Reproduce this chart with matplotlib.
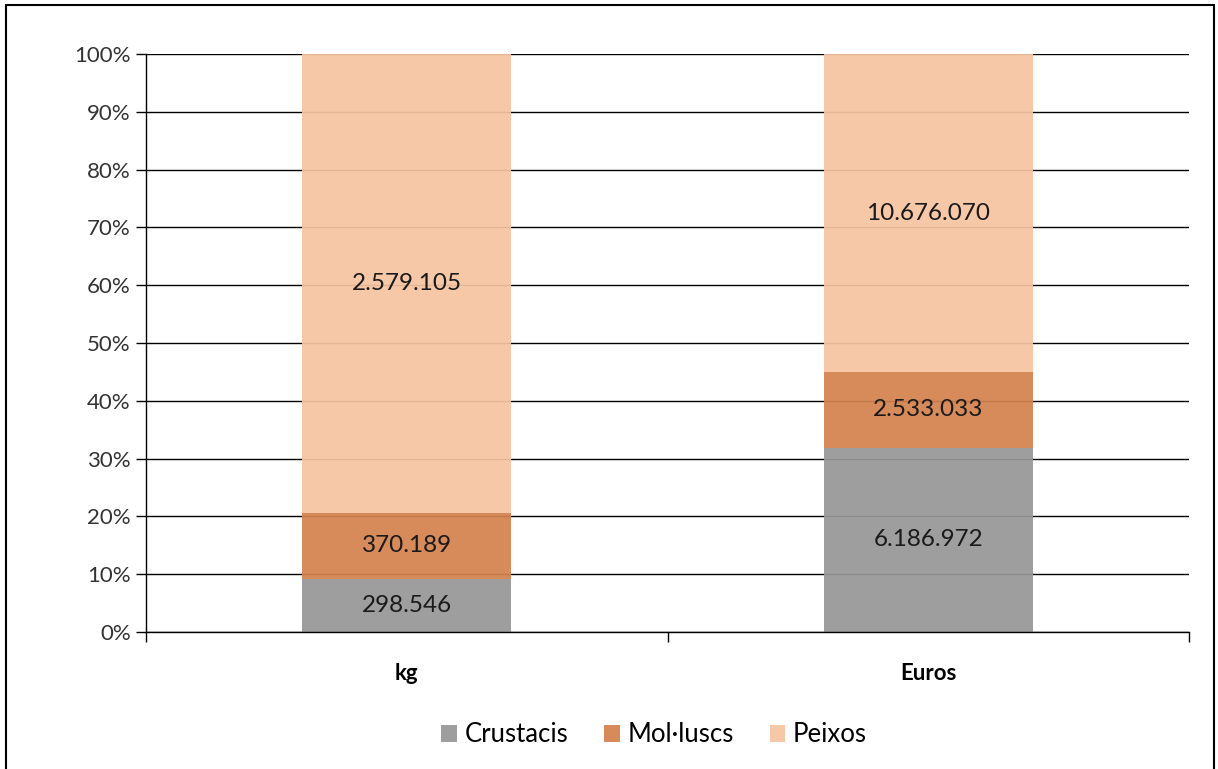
import matplotlib
matplotlib.use("Agg")
import matplotlib.pyplot as plt
from matplotlib.patches import Rectangle
from matplotlib.ticker import FixedLocator, PercentFormatter
import numpy as np

categories = ["kg", "Euros"]
series_names = ["Crustacis", "Mol·luscs", "Peixos"]
crustacis = [298546, 6186972]
molluscs = [370189, 2533033]
peixos = [2579105, 10676070]
colors = ["#979797", "#D4814D", "#F7C4A0"]

def fmt(v):
    return f"{v:,}".replace(",", ".")

plt.rcParams['font.family'] = ['Lato', 'DejaVu Sans']

fig = plt.figure(figsize=(12.18, 7.69), dpi=100)
ax = fig.add_axes([146/1218, 1-632/769, (1189-146)/1218, (632-54)/769])

data = np.array([crustacis, molluscs, peixos], dtype=float)
totals = data.sum(axis=0)
pct = data / totals * 100
x = np.arange(len(categories))
bottom = np.zeros(len(categories))
for i, name in enumerate(series_names):
    ax.bar(x, pct[i], 0.4, bottom=bottom, color=colors[i], alpha=0.93,
           label=name, zorder=2, linewidth=0)
    for j in range(len(categories)):
        ax.text(x[j], bottom[j] + pct[i][j] / 2, fmt(int(data[i][j])),
                ha="center", va="center", fontsize=17.5, color="#1a1a1a", zorder=3)
    bottom += pct[i]

ax.set_xlim(-0.5, 1.5)
ax.set_ylim(0, 100)
ax.yaxis.set_major_locator(FixedLocator(np.arange(0, 101, 10)))
ax.yaxis.set_major_formatter(PercentFormatter(decimals=0))
ax.grid(axis="y", color="black", linewidth=1.0, zorder=1)
ax.set_axisbelow(True)
for s in ["top", "right"]:
    ax.spines[s].set_visible(False)
ax.spines["left"].set_linewidth(1.0)
ax.spines["bottom"].set_linewidth(1.0)
ax.tick_params(axis="y", length=7, width=1, labelsize=16, labelcolor="#333333", pad=4)
ax.set_xticks(x)
ax.set_xticklabels(categories, fontsize=16, fontweight="bold")
ax.tick_params(axis="x", which="major", length=0, pad=22)
ax.set_xticks([-0.5, 0.5, 1.5], minor=True)
ax.tick_params(axis="x", which="minor", length=7, width=1, direction="out")

leg = fig.legend(loc="center", bbox_to_anchor=(0.537, 1-735/769), ncol=3, frameon=False,
                 fontsize=18.5, handlelength=0.6, handleheight=0.6, columnspacing=1.4,
                 handletextpad=0.3)

fig.patches.append(Rectangle((6/1218, -0.05), (1214-6)/1218, 1.05 - 5/769,
                             transform=fig.transFigure, fill=False,
                             edgecolor="black", linewidth=1.5))

fig.savefig("out.png", dpi=100)
